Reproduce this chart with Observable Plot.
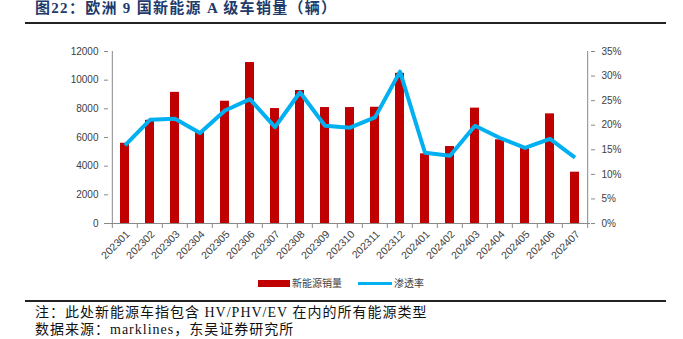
<!DOCTYPE html>
<html><head><meta charset="utf-8">
<script src="https://cdn.jsdelivr.net/npm/d3@7"></script>
<script src="https://cdn.jsdelivr.net/npm/@observablehq/plot@0.6"></script>
<style>
body{margin:0;background:#fff;}
#wrap{position:relative;width:683px;height:339px;overflow:hidden;background:#fff;}
.abs{position:absolute;white-space:nowrap;}
#title{left:35px;top:0px;font:bold 15px "Liberation Serif","Noto Sans CJK SC",serif;letter-spacing:1.3px;color:#203a6b;line-height:16px;}
.rule{position:absolute;left:25px;width:641px;height:2px;background:#222;}
.note{left:35px;font:14px "Liberation Serif","Noto Sans CJK SC",serif;color:#111;letter-spacing:1px;line-height:16px;}
.leg{font:10px "Noto Sans CJK SC",sans-serif;color:#404040;line-height:12px;}
#chart{position:absolute;left:0;top:30px;}
</style></head>
<body><div id="wrap">
<div id="title" class="abs">图22：欧洲 9 国新能源 A 级车销量（辆）</div>
<div class="rule" style="top:22px"></div>
<div id="chart"></div>
<div class="abs" style="left:258px;top:280px;width:32px;height:7px;background:#C00000"></div>
<div class="abs leg" style="left:292px;top:277px">新能源销量</div>
<div class="abs" style="left:358px;top:282px;width:34px;height:3px;background:#00B0F0"></div>
<div class="abs leg" style="left:394px;top:277px">渗透率</div>
<div class="rule" style="top:300px"></div>
<div class="abs note" style="top:305px">注：此处新能源车指包含 HV/PHV/EV 在内的所有能源类型</div>
<div class="abs note" style="top:322px">数据来源：marklines，东吴证券研究所</div>
</div>
<script>
const categories = ["202301","202302","202303","202304","202305","202306","202307","202308","202309","202310","202311","202312","202401","202402","202403","202404","202405","202406","202407"];
const sales = [5600,7200,9150,6350,8530,11230,8020,9280,8090,8090,8110,10480,4860,5370,8050,5840,5250,7650,3580];
const penetration = [15.9,21.1,21.3,18.4,23.0,25.3,19.6,26.7,19.9,19.5,21.6,30.9,14.4,13.8,19.9,17.4,15.4,17.2,13.4];
const leftTicks = [0,2000,4000,6000,8000,10000,12000];
const rightTicks = [0,5,10,15,20,25,30,35];

const yMax = 12000, pMax = 35, k = yMax / pMax;
const W = 683, ML = 108, MR = 93;
const step = (W - ML - MR) / categories.length;
const rows = categories.map((c, i) => ({c, sales: sales[i], pen: penetration[i] * k}));
const axisColor = "#898989", textColor = "#404040";
const font = "'Liberation Sans', Arial, sans-serif";

const chart = Plot.plot({
  width: W, height: 250,
  marginLeft: ML, marginRight: MR, marginTop: 21, marginBottom: 57,
  style: {fontFamily: font, fontSize: "10px", color: textColor, background: "#fff"},
  x: {domain: categories, paddingInner: 0.64, paddingOuter: 0.32, axis: null, label: null},
  y: {domain: [0, yMax], axis: null, label: null},
  marks: [
    Plot.barY(rows, {x: "c", y: "sales", fill: "#C00000"}),
    Plot.ruleY([0], {stroke: axisColor}),
    Plot.ruleX([categories[0]], {y1: 0, y2: yMax, stroke: axisColor, dx: -step / 2}),
    Plot.ruleX([categories[categories.length - 1]], {y1: 0, y2: yMax, stroke: axisColor, dx: step / 2}),
    Plot.axisX({ticks: categories, tickSize: 5, tickFormat: () => "", label: null, stroke: axisColor, dx: -step / 2}),
    Plot.axisX({ticks: [categories[categories.length - 1]], tickSize: 5, tickFormat: () => "", label: null, stroke: axisColor, dx: step / 2}),
    Plot.axisX({ticks: categories, tickSize: 0, tickRotate: -45, tickPadding: 9, dx: 3, label: null, fill: textColor, fontSize: 10.5}),
    Plot.axisY({anchor: "left", ticks: leftTicks, tickSize: 4, tickPadding: 6, label: null, stroke: axisColor, fill: textColor, tickFormat: d => String(d)}),
    Plot.axisY({anchor: "right", ticks: rightTicks.map(p => p * k), tickSize: 4, tickPadding: 7, label: null, stroke: axisColor, fill: textColor, tickFormat: d => Math.round(d / k) + "%"}),
    Plot.lineY(rows, {x: "c", y: "pen", stroke: "#00B0F0", strokeWidth: 4, strokeLinejoin: "round", strokeLinecap: "butt"})
  ]
});
document.getElementById("chart").appendChild(chart);
</script>
</body></html>
